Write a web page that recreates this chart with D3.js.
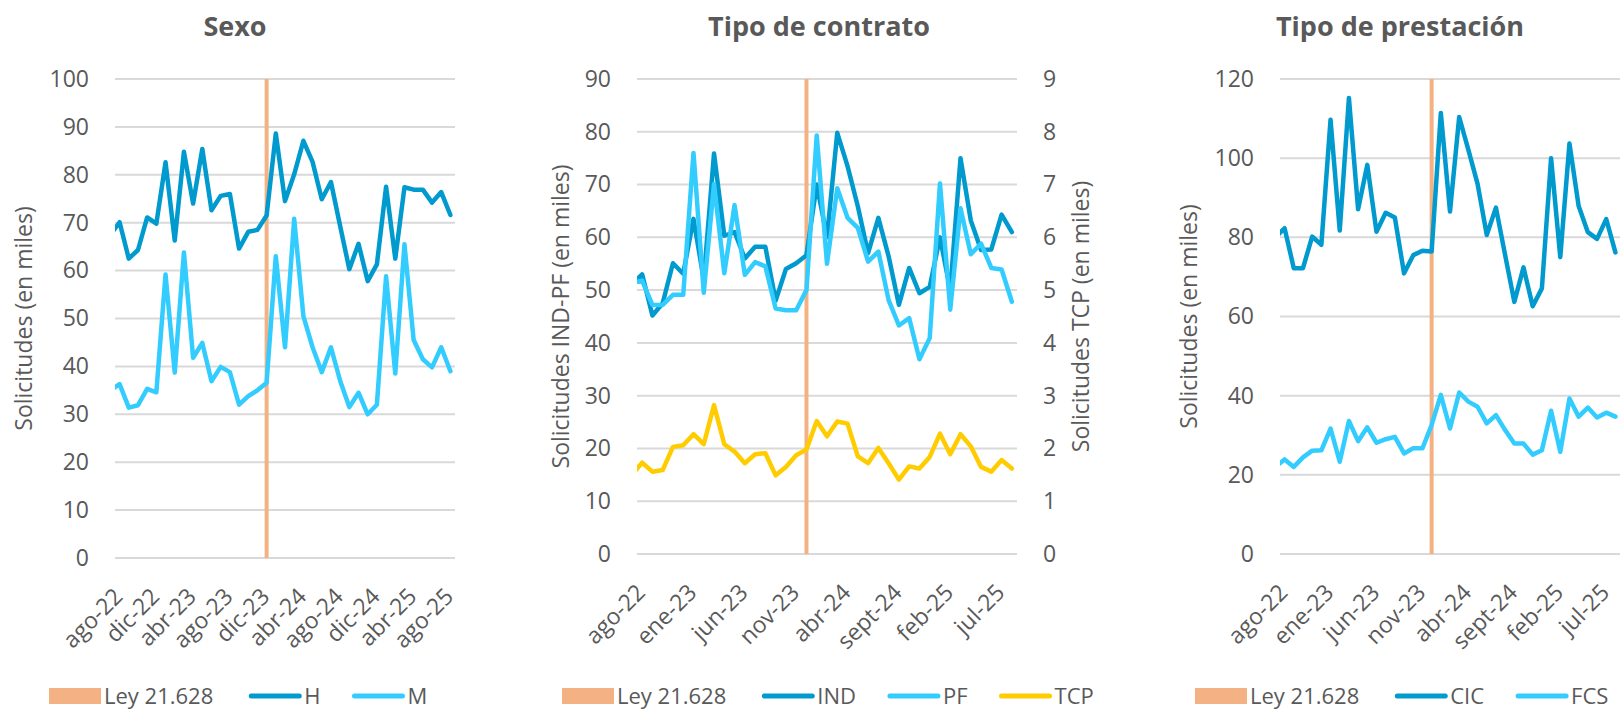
<!DOCTYPE html>
<html>
<head>
<meta charset="utf-8">
<script src="https://cdn.jsdelivr.net/npm/d3@7"></script>
<style>
  body { margin: 0; background: #fff; }
  text { font-family: "Open Sans", sans-serif; fill: #595959; }
  .tick text { font-size: 23px; }
</style>
</head>
<body>
<svg id="chart" width="1623" height="712"></svg>
<script>
// months, jul-22 sits just left of the plot and is clipped
const months = ["jul-22","ago-22","sept-22","oct-22","nov-22","dic-22","ene-23","feb-23","mar-23","abr-23",
  "may-23","jun-23","jul-23","ago-23","sept-23","oct-23","nov-23","dic-23","ene-24","feb-24","mar-24",
  "abr-24","may-24","jun-24","jul-24","ago-24","sept-24","oct-24","nov-24","dic-24","ene-25","feb-25",
  "mar-25","abr-25","may-25","jun-25","jul-25","ago-25"];

const ticksSexo = ["ago-22","dic-22","abr-23","ago-23","dic-23","abr-24","ago-24","dic-24","abr-25","ago-25"];
const ticksOtros = ["ago-22","ene-23","jun-23","nov-23","abr-24","sept-24","feb-25","jul-25"];

const leyMes = "dic-23";

// Sexo
const H = [67.5,70.1,62.5,64.3,71.1,69.8,82.6,66.3,84.8,74.0,85.4,72.6,75.6,76.0,64.6,68.1,68.5,71.5,88.6,74.5,
  80.1,87.1,82.7,74.9,78.5,69.3,60.3,65.6,57.8,61.3,77.5,62.5,77.4,76.9,76.9,74.2,76.4,71.6];
const M = [35.0,36.3,31.4,31.9,35.3,34.6,59.2,38.7,63.8,41.8,44.9,36.9,39.9,38.8,32.0,33.8,35.0,36.6,63.0,44.0,
  70.8,50.5,44.0,38.8,44.0,37.0,31.5,34.5,30.0,32.0,58.8,38.5,65.5,45.5,41.5,39.8,44.0,39.0];

// Tipo de contrato
const IND = [51.0,53.0,45.2,47.5,55.1,53.1,63.5,52.0,75.9,60.3,61.0,56.0,58.2,58.2,48.0,54.0,55.1,56.6,70.0,60.0,
  79.8,73.5,65.9,57.0,63.7,56.4,47.2,54.2,49.4,50.6,60.0,50.0,75.0,63.2,57.6,57.7,64.3,61.0];
const PF = [51.3,51.8,47.2,47.2,49.1,49.1,76.0,49.5,70.1,53.2,66.1,52.9,55.3,54.5,46.5,46.2,46.2,50.0,79.3,55.0,
  69.3,63.7,61.8,55.4,57.3,48.1,43.3,44.7,36.9,40.9,70.2,46.3,65.5,56.8,58.8,54.2,53.9,47.8];
const TCP = [1.50,1.73,1.56,1.59,2.03,2.06,2.27,2.08,2.82,2.08,1.94,1.72,1.89,1.91,1.49,1.65,1.87,1.98,2.52,2.23,
  2.51,2.47,1.85,1.72,2.01,1.72,1.41,1.66,1.62,1.84,2.28,1.89,2.27,2.04,1.65,1.56,1.78,1.62];

// Tipo de prestación
const CIC = [80.0,82.3,72.2,72.2,80.2,78.1,109.7,81.7,115.2,87.1,98.3,81.4,86.2,85.0,70.9,75.5,76.6,76.4,111.4,86.5,
  110.4,102.1,93.5,80.6,87.5,75.5,63.7,72.4,62.6,67.1,100.0,75.0,103.7,87.9,81.3,79.6,84.6,76.2];
const FCS = [22.0,23.9,22.0,24.4,26.1,26.2,31.7,23.3,33.6,28.5,32.0,28.1,29.0,29.6,25.4,26.7,26.7,32.6,40.2,31.7,
  40.8,38.5,37.2,33.0,35.1,31.3,27.9,27.9,25.1,26.2,36.2,25.8,39.3,34.7,37.0,34.5,35.7,34.7];

const cOscuro = "#009ace", cClaro = "#33ccff", cAmarillo = "#ffcc00", cLey = "#f4b183";

const svg = d3.select("#chart");

function drawPanel(cfg) {
  const g = svg.append("g");
  const x = d3.scaleLinear().domain([0.5, months.length - 0.5]).range([cfg.left, cfg.right]);
  const y = d3.scaleLinear().domain([0, cfg.yMax]).range([cfg.bottom, cfg.top]);

  // gridlines
  g.append("g").selectAll("line")
    .data(d3.range(0, cfg.yMax + 0.001, cfg.step))
    .join("line")
      .attr("x1", cfg.left).attr("x2", cfg.right)
      .attr("y1", d => y(d)).attr("y2", d => y(d))
      .attr("stroke", "#d9d9d9").attr("stroke-width", 2);

  // left axis
  const ay = g.append("g")
    .attr("transform", `translate(${cfg.left - 26},0)`)
    .call(d3.axisLeft(y).tickValues(d3.range(0, cfg.yMax + 0.001, cfg.step)).tickSize(0).tickPadding(0));
  ay.select(".domain").remove();

  g.append("text")
    .attr("transform", `translate(${cfg.yTitleX},${(cfg.top + cfg.bottom) / 2}) rotate(-90)`)
    .attr("text-anchor", "middle").attr("dy", "0.35em")
    .attr("font-size", 23)
    .text(cfg.yTitle);

  // right axis (TCP)
  let y2 = null;
  if (cfg.y2Max) {
    y2 = d3.scaleLinear().domain([0, cfg.y2Max]).range([cfg.bottom, cfg.top]);
    const ay2 = g.append("g")
      .attr("transform", `translate(${cfg.right + 26},0)`)
      .call(d3.axisRight(y2).ticks(cfg.y2Max).tickSize(0).tickPadding(0));
    ay2.select(".domain").remove();
    g.append("text")
      .attr("transform", `translate(${cfg.y2TitleX},${(cfg.top + cfg.bottom) / 2}) rotate(-90)`)
      .attr("text-anchor", "middle").attr("dy", "0.35em")
      .attr("font-size", 23)
      .text(cfg.y2Title);
  }

  // x axis labels
  const ax = g.append("g")
    .attr("transform", `translate(0,${cfg.bottom})`)
    .call(d3.axisBottom(x).tickValues(cfg.ticks.map(t => months.indexOf(t)))
      .tickFormat(i => months[i]).tickSize(0));
  ax.select(".domain").remove();
  ax.selectAll("text")
    .attr("x", 0).attr("y", 0).attr("dy", 0)
    .attr("text-anchor", "end")
    .attr("transform", "translate(4,40) rotate(-45)");

  // Ley 21.628 column
  const li = months.indexOf(leyMes);
  g.append("rect")
    .attr("x", x(li) - 2).attr("width", 4)
    .attr("y", y(cfg.yMax)).attr("height", cfg.bottom - y(cfg.yMax))
    .attr("fill", cLey);

  // clip
  const clipId = "clip" + cfg.id;
  svg.append("clipPath").attr("id", clipId).append("rect")
    .attr("x", cfg.left).attr("y", cfg.top - 10)
    .attr("width", cfg.right - cfg.left).attr("height", cfg.bottom - cfg.top + 20);

  const lines = g.append("g").attr("clip-path", `url(#${clipId})`);
  cfg.series.forEach(s => {
    const sy = s.right ? y2 : y;
    lines.append("path")
      .datum(s.values)
      .attr("fill", "none")
      .attr("stroke", s.color).attr("stroke-width", 4.5)
      .attr("stroke-linejoin", "round").attr("stroke-linecap", "round")
      .attr("d", d3.line().x((d, i) => x(i)).y(d => sy(d)));
  });

  // title
  g.append("text")
    .attr("x", cfg.titleX).attr("y", 36)
    .attr("text-anchor", "middle")
    .attr("font-size", 27).attr("font-weight", "bold")
    .text(cfg.title);

  // legend
  const cy = 696;
  let cx = cfg.legendX;
  const lg = g.append("g");
  lg.append("rect").attr("x", cx).attr("y", cy - 8).attr("width", 52).attr("height", 16).attr("fill", cLey);
  cx += 55;
  let t = lg.append("text").attr("x", cx).attr("y", cy).attr("dy", "0.35em").attr("font-size", 22).text("Ley 21.628");
  cx += t.node().getComputedTextLength() + 36;
  cfg.series.forEach(s => {
    lg.append("line").attr("x1", cx + 2).attr("x2", cx + 50).attr("y1", cy).attr("y2", cy)
      .attr("stroke", s.color).attr("stroke-width", 5).attr("stroke-linecap", "round");
    cx += 55;
    t = lg.append("text").attr("x", cx).attr("y", cy).attr("dy", "0.35em").attr("font-size", 22).text(s.name);
    cx += t.node().getComputedTextLength() + 32;
  });
}

drawPanel({
  id: 1, left: 115, right: 455, top: 79, bottom: 558, yMax: 100, step: 10,
  title: "Sexo", titleX: 235, yTitle: "Solicitudes (en miles)", yTitleX: 24,
  ticks: ticksSexo, legendX: 49,
  series: [{name: "H", values: H, color: cOscuro}, {name: "M", values: M, color: cClaro}]
});

drawPanel({
  id: 2, left: 637, right: 1017, top: 79, bottom: 554, yMax: 90, step: 10,
  y2Max: 9, y2Title: "Solicitudes TCP (en miles)", y2TitleX: 1081,
  title: "Tipo de contrato", titleX: 819, yTitle: "Solicitudes IND-PF (en miles)", yTitleX: 561,
  ticks: ticksOtros, legendX: 562,
  series: [{name: "IND", values: IND, color: cOscuro}, {name: "PF", values: PF, color: cClaro},
           {name: "TCP", values: TCP, color: cAmarillo, right: true}]
});

drawPanel({
  id: 3, left: 1280, right: 1620, top: 79, bottom: 554, yMax: 120, step: 20,
  title: "Tipo de prestación", titleX: 1400, yTitle: "Solicitudes (en miles)", yTitleX: 1189,
  ticks: ticksOtros, legendX: 1195,
  series: [{name: "CIC", values: CIC, color: cOscuro}, {name: "FCS", values: FCS, color: cClaro}]
});
</script>
</body>
</html>
